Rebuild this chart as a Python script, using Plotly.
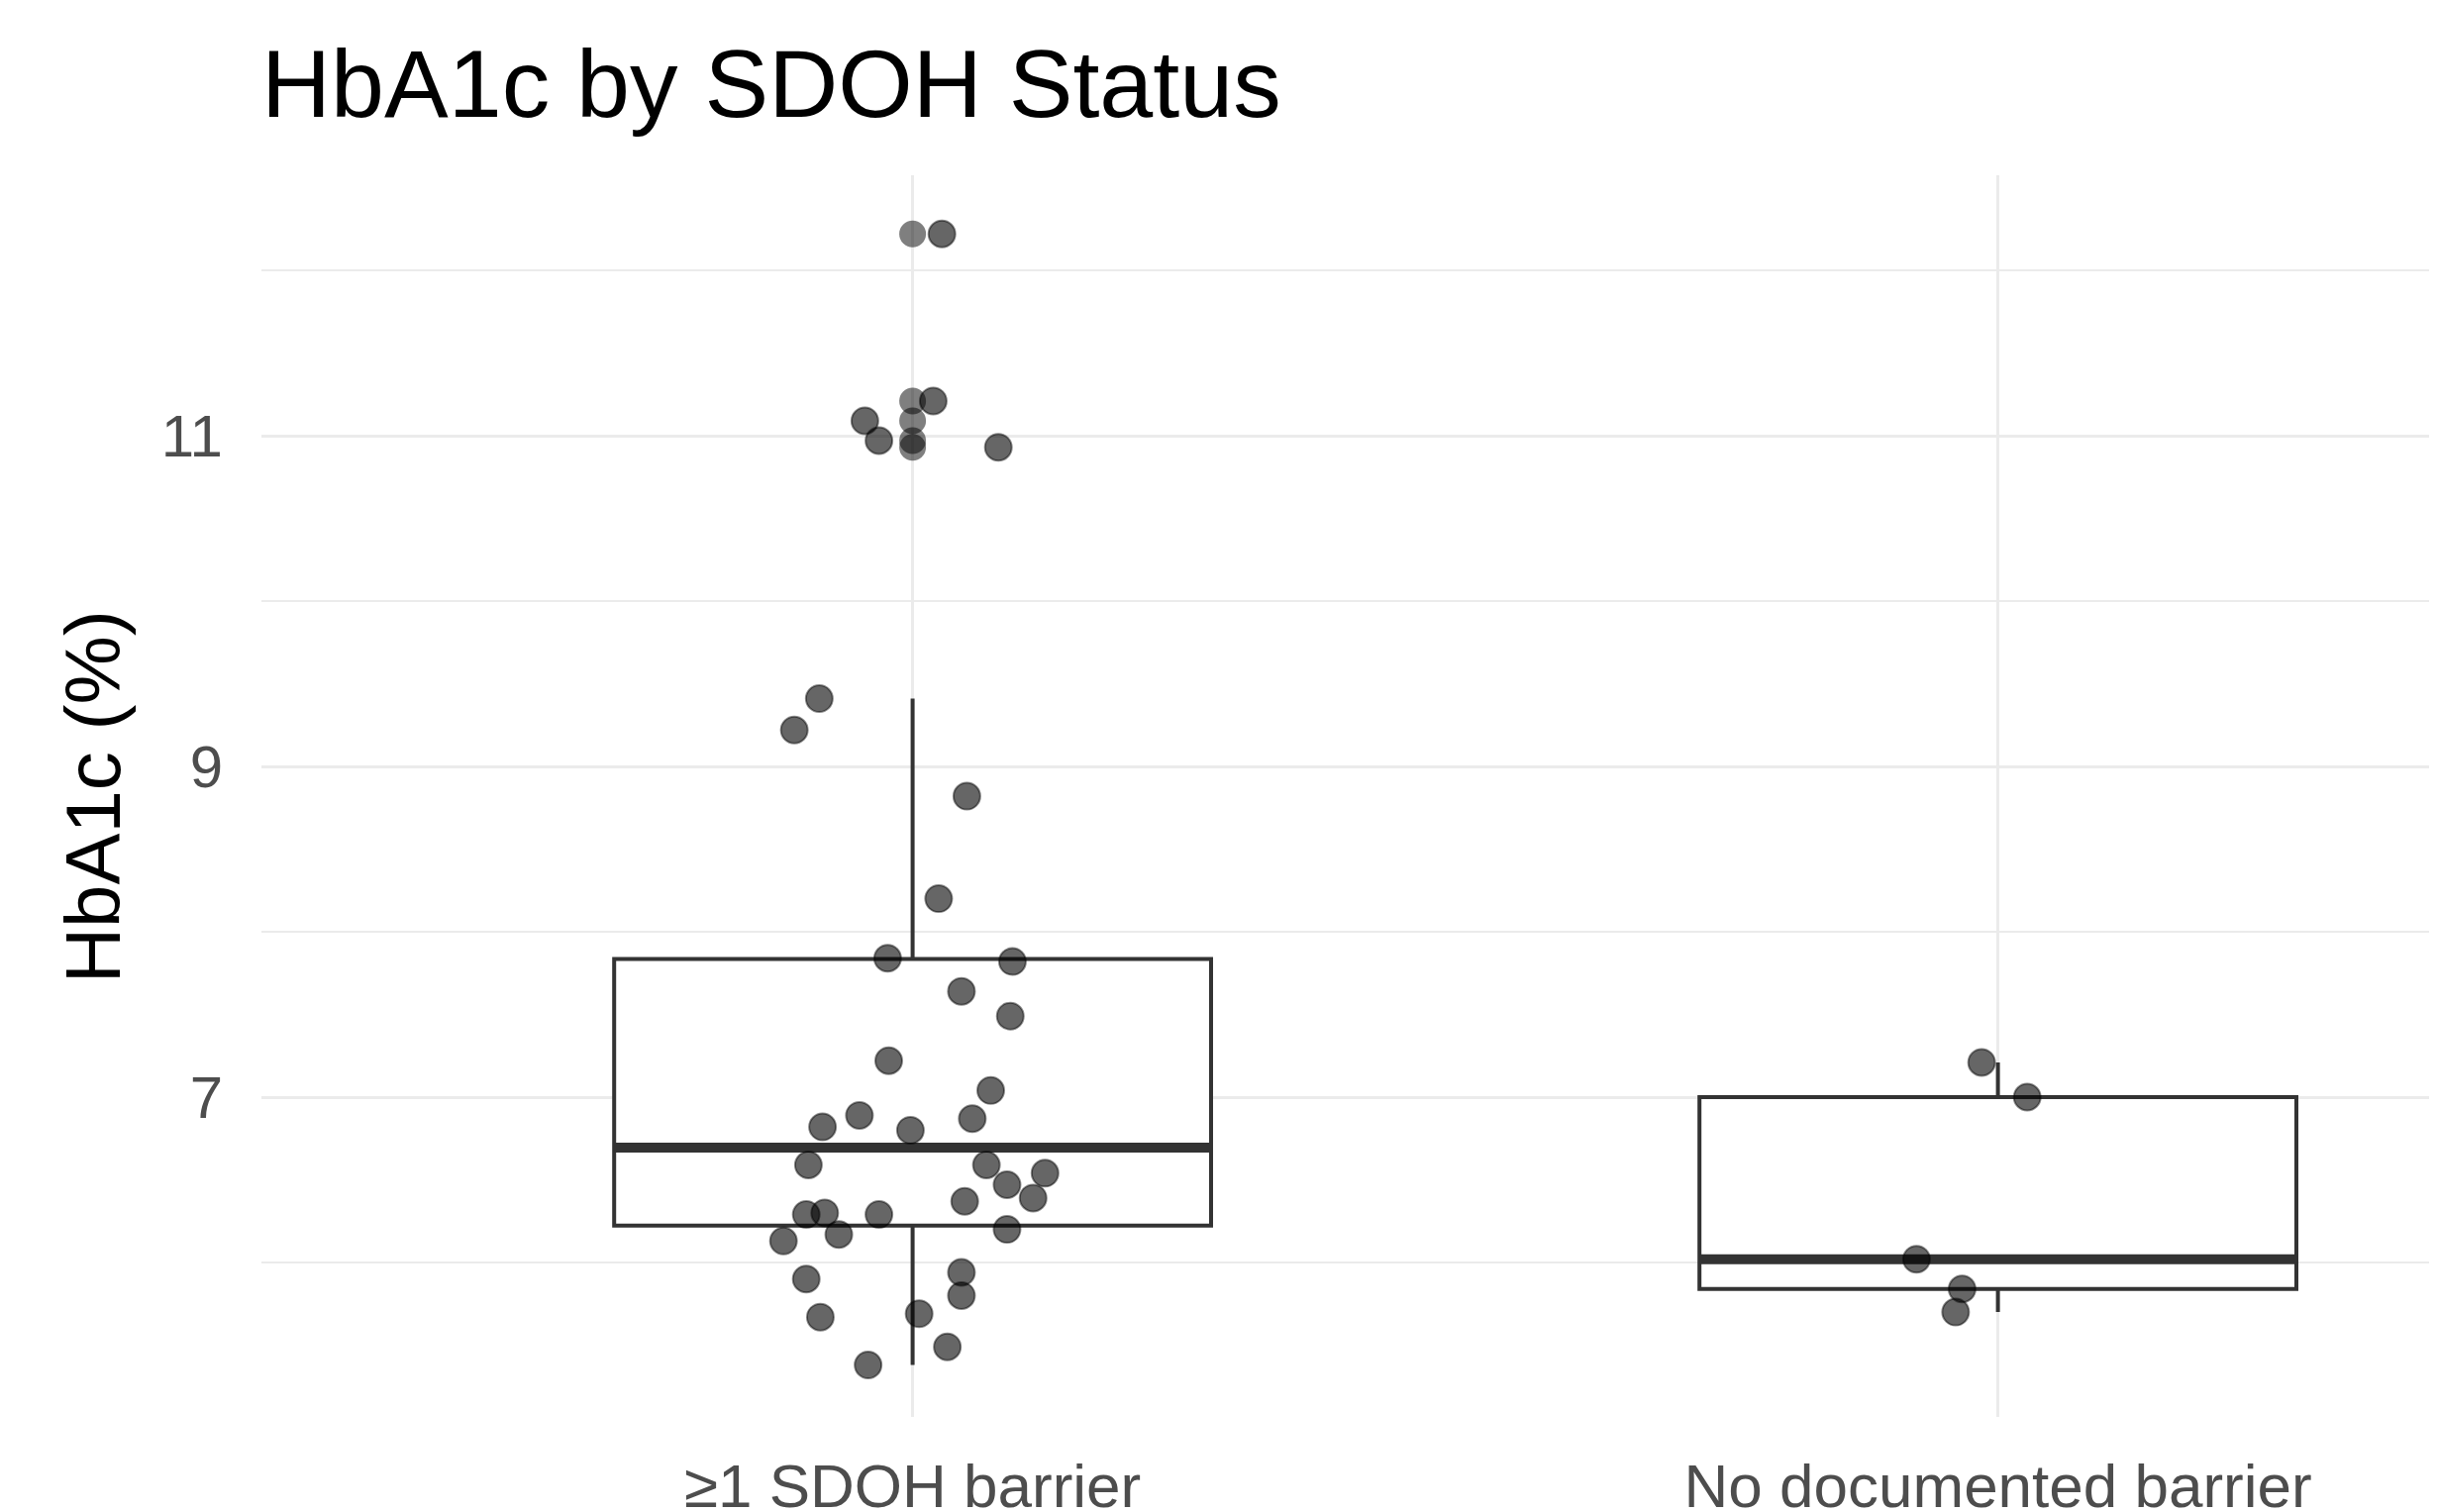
import numpy as np
import plotly.graph_objects as go

# ---------------- data ----------------
categories = ["≥1 SDOH barrier", "No documented barrier"]

# HbA1c values (as read from jittered points)
hba1c_sdoh = [12.22, 11.21, 11.09, 10.97, 10.93, 9.41, 9.22, 8.82, 8.20, 7.84,
              7.82, 7.64, 7.49, 7.22, 7.04, 6.89, 6.82, 6.87, 6.80, 6.59,
              6.59, 6.54, 6.47, 6.39, 6.37, 6.29, 6.30, 6.29, 6.20, 6.17,
              6.13, 5.90, 5.94, 5.80, 5.67, 5.69, 5.49, 5.38]
jitter_sdoh = [0.027, 0.019, -0.044, -0.031, 0.079, -0.086, -0.109, 0.050, 0.024, -0.023,
               0.092, 0.045, 0.090, -0.022, 0.072, -0.049, -0.083, 0.055, -0.002, -0.096,
               0.068, 0.122, 0.087, 0.111, 0.048, -0.098, -0.081, -0.031, 0.087, -0.068,
               -0.119, -0.098, 0.045, 0.045, -0.085, 0.006, 0.032, -0.041]

hba1c_none = [7.21, 7.00, 6.02, 5.84, 5.70]
jitter_none = [-0.015, 0.027, -0.075, -0.033, -0.039]

y_tick_vals = [7, 9, 11]
y_minor_vals = [6, 8, 10, 12]

groups = [(1, hba1c_sdoh, jitter_sdoh), (2, hba1c_none, jitter_none)]

# ---------------- styles ----------------
FONT = "Liberation Sans, Arial, sans-serif"
BOX_W = 0.55
BOX_LINE = "#333333"
GRID = "#ebebeb"

fig = go.Figure()

stats = []
for pos, vals, jit in groups:
    v = np.array(vals)
    q1, med, q3 = np.percentile(v, [25, 50, 75])
    iqr = q3 - q1
    up = v[v <= q3 + 1.5 * iqr].max()
    lo = v[v >= q1 - 1.5 * iqr].min()
    outl = v[(v > up) | (v < lo)]
    stats.append((pos, q1, med, q3, lo, up, outl))
    fig.add_trace(go.Box(
        x=[pos], q1=[q1], median=[med], q3=[q3], lowerfence=[lo], upperfence=[up],
        width=BOX_W, whiskerwidth=0, boxpoints=False,
        line=dict(color=BOX_LINE, width=4), fillcolor="white",
        hoverinfo="skip", showlegend=False))

for pos, q1, med, q3, lo, up, outl in stats:
    fig.add_trace(go.Scatter(
        x=[pos - BOX_W / 2, pos + BOX_W / 2], y=[med, med], mode="lines",
        line=dict(color=BOX_LINE, width=10), hoverinfo="skip", showlegend=False))

for pos, q1, med, q3, lo, up, outl in stats:
    if len(outl):
        fig.add_trace(go.Scatter(
            x=[pos] * len(outl), y=outl, mode="markers",
            marker=dict(size=27, color="rgba(0,0,0,0.5)", line=dict(width=0)),
            hoverinfo="skip", showlegend=False))

for pos, vals, jit in groups:
    fig.add_trace(go.Scatter(
        x=[pos + j for j in jit], y=vals, mode="markers",
        marker=dict(size=27, color="rgba(0,0,0,0.6)",
                    line=dict(color="rgba(0,0,0,0.45)", width=2)),
        showlegend=False))

# page body has an 8px margin; size figure so the panel fills to the window edge
W, H = 2453, 1519
L, T, B = 256, 169, 96
plot_w = W - L
fig.update_layout(
    width=W, height=H,
    margin=dict(l=L, r=0, t=T, b=B, pad=0, autoexpand=False),
    paper_bgcolor="white", plot_bgcolor="white",
    font=dict(family=FONT, color="#4d4d4d"),
    title=dict(text="HbA1c by SDOH Status", x=0, xref="paper", xanchor="left",
               y=1 - 76 / H, yref="container", yanchor="middle",
               font=dict(family=FONT, size=97, color="black")),
    xaxis=dict(range=[0.4, 0.4 + plot_w / 1096], tickvals=[1, 2], ticktext=categories,
               showgrid=True, gridcolor=GRID, gridwidth=3, zeroline=False,
               showline=False, ticks="", ticklabelstandoff=28, automargin=False,
               tickfont=dict(family=FONT, size=62, color="#4d4d4d")),
    yaxis=dict(range=[5.066, 12.575], tickvals=y_tick_vals,
               showgrid=True, gridcolor=GRID, gridwidth=3, zeroline=False,
               showline=False, ticks="", ticklabelstandoff=38, automargin=False,
               tickfont=dict(family=FONT, size=60, color="#4d4d4d"),
               minor=dict(tickvals=y_minor_vals, showgrid=True, gridcolor=GRID, gridwidth=2)),
    annotations=[dict(text="HbA1c (%)", textangle=-90, xref="paper", yref="paper",
                      x=(86 - L) / plot_w, y=0.499, xanchor="center", yanchor="middle",
                      showarrow=False, font=dict(family=FONT, size=78, color="black"))],
)

fig.write_html("out.html")
